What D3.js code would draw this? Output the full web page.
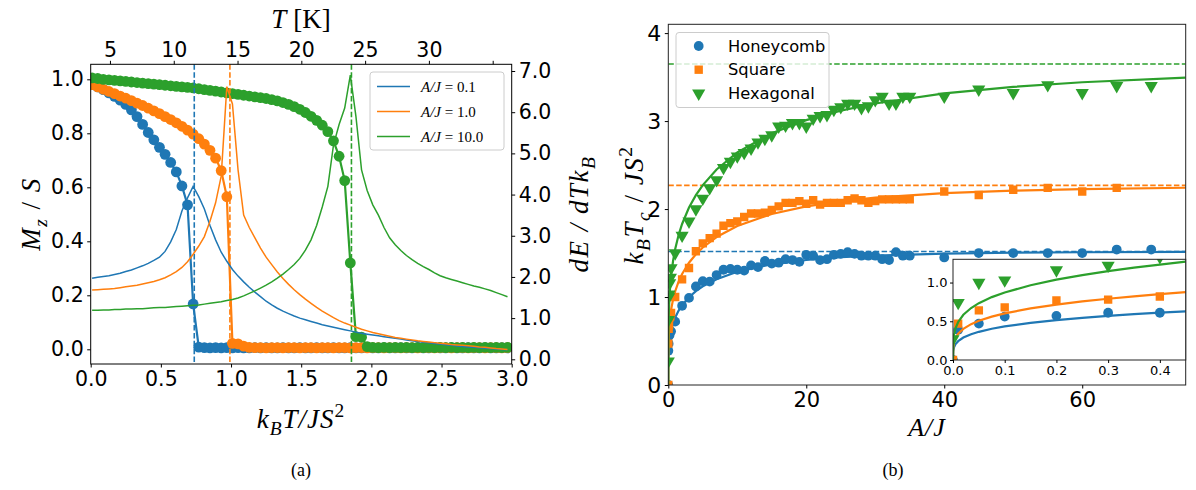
<!DOCTYPE html>
<html><head><meta charset="utf-8">
<script src="https://cdn.jsdelivr.net/npm/d3@7"></script>
<style>body{margin:0;background:#fff;} svg{display:block;}</style>
</head><body>
<svg id="c" width="1196" height="490"></svg>
<script>
// ---------------- Panel (a) data ----------------
const tempGrid = [0.01,0.05,0.09,0.13,0.17,0.21,0.25,0.29,0.33,0.37,0.41,0.45,0.49,0.53,0.57,0.61,0.65,0.69,0.73,0.77,0.81,0.85,0.89,0.93,0.97,1.01,1.05,1.09,1.13,1.17,1.21,1.25,1.29,1.33,1.37,1.41,1.45,1.49,1.53,1.57,1.61,1.65,1.69,1.73,1.77,1.81,1.85,1.89,1.93,1.97,2.01,2.05,2.09,2.13,2.17,2.21,2.25,2.29,2.33,2.37,2.41,2.45,2.49,2.53,2.57,2.61,2.65,2.69,2.73,2.77,2.81,2.85,2.89,2.93,2.97];
const magA01 = [0.980,0.972,0.962,0.950,0.937,0.923,0.907,0.887,0.862,0.833,0.803,0.776,0.748,0.722,0.692,0.657,0.605,0.535,0.168,0.008,0.006,0.005,0.006,0.005,0.006,0.005,0.006,0.005,0.005,0.006,0.005,0.006,0.005,0.005,0.006,0.005,0.005,0.006,0.005,0.005,0.006,0.005,0.005,0.006,0.005,0.005,0.006,0.005,0.005,0.006,0.005,0.005,0.006,0.005,0.005,0.006,0.005,0.005,0.006,0.005,0.005,0.006,0.005,0.005,0.006,0.005,0.005,0.006,0.005,0.005,0.006,0.005,0.005,0.006,0.005];
const magA1 = [0.980,0.972,0.963,0.955,0.947,0.938,0.930,0.921,0.912,0.903,0.893,0.883,0.873,0.862,0.851,0.839,0.826,0.812,0.797,0.780,0.760,0.737,0.708,0.662,0.565,0.022,0.020,0.012,0.007,0.006,0.006,0.005,0.006,0.006,0.005,0.006,0.006,0.005,0.006,0.006,0.005,0.006,0.006,0.005,0.006,0.006,0.005,0.006,0.006,0.005,0.006,0.006,0.005,0.006,0.006,0.005,0.006,0.006,0.005,0.006,0.006,0.005,0.006,0.006,0.005,0.006,0.006,0.005,0.006,0.006,0.005,0.006,0.006,0.005,0.006];
const magA10 = [1.005,1.003,1.000,0.998,0.996,0.994,0.992,0.990,0.988,0.986,0.984,0.982,0.980,0.978,0.976,0.974,0.972,0.970,0.968,0.965,0.962,0.959,0.956,0.953,0.950,0.947,0.944,0.941,0.938,0.935,0.932,0.929,0.925,0.920,0.914,0.907,0.899,0.889,0.877,0.863,0.848,0.830,0.806,0.772,0.715,0.625,0.320,0.047,0.045,0.010,0.007,0.006,0.007,0.006,0.007,0.006,0.007,0.006,0.007,0.006,0.007,0.006,0.007,0.006,0.007,0.006,0.007,0.006,0.007,0.006,0.007,0.006,0.007,0.006,0.007];
const heatA01 = [1.97,1.99,2.01,2.03,2.06,2.09,2.13,2.17,2.22,2.27,2.33,2.40,2.48,2.62,2.85,3.15,3.60,3.92,4.20,3.95,3.65,3.25,2.90,2.60,2.38,2.18,2.02,1.88,1.75,1.63,1.52,1.41,1.32,1.24,1.17,1.11,1.05,1.00,0.96,0.92,0.88,0.84,0.81,0.78,0.75,0.72,0.69,0.66,0.63,0.61,0.59,0.57,0.55,0.53,0.51,0.49,0.47,0.45,0.43,0.415,0.40,0.385,0.37,0.355,0.34,0.325,0.31,0.30,0.29,0.28,0.27,0.26,0.25,0.24,0.23];
const heatA1 = [1.68,1.69,1.70,1.71,1.72,1.74,1.76,1.78,1.80,1.83,1.86,1.89,1.93,1.98,2.05,2.13,2.23,2.37,2.55,2.75,2.98,3.35,3.80,4.45,6.62,6.20,4.60,3.50,3.20,2.95,2.70,2.48,2.30,2.12,1.96,1.82,1.69,1.57,1.46,1.36,1.26,1.17,1.09,1.01,0.94,0.88,0.83,0.78,0.73,0.69,0.65,0.62,0.59,0.56,0.53,0.51,0.49,0.47,0.45,0.435,0.42,0.405,0.39,0.375,0.36,0.35,0.34,0.33,0.315,0.30,0.29,0.275,0.26,0.25,0.24];
const heatA10 = [1.19,1.19,1.20,1.20,1.21,1.21,1.22,1.22,1.23,1.23,1.24,1.25,1.26,1.26,1.27,1.28,1.29,1.30,1.31,1.32,1.34,1.36,1.38,1.40,1.43,1.45,1.49,1.54,1.60,1.66,1.73,1.80,1.88,1.97,2.07,2.18,2.30,2.45,2.65,2.90,3.25,3.70,4.20,5.20,5.70,6.10,6.90,5.90,4.60,4.10,3.75,3.50,3.20,2.95,2.78,2.64,2.52,2.42,2.33,2.25,2.18,2.10,2.03,1.98,1.94,1.90,1.86,1.82,1.78,1.75,1.71,1.67,1.62,1.57,1.52];
const criticalT = [0.738, 0.992, 1.858];
const seriesLabels = ["0.1", "1.0", "10.0"];
const bottomTicks = [0.0,0.5,1.0,1.5,2.0,2.5,3.0];
const leftTicks = [0.0,0.2,0.4,0.6,0.8,1.0];
const rightTicks = [0,1,2,3,4,5,6,7];
const topTicks = [5,10,15,20,25,30,35];
const topTickLabels = ["5","10","15","20","25","30",""];

// ---------------- Panel (b) data ----------------
const anisotropy = [0,0.01,0.05,0.1,0.2,0.3,0.4,1,2,3,4,5,6,7,8,9,10,11,12,13,14,15,16,17,18,19,20,21,22,23,24,25,26,27,28,29,30,31,32,33,34,35,40,45,50,55,60,65,70];
const tcHoneycomb = [0,0.39,0.47,0.56,0.57,0.61,0.61,0.72,0.90,0.99,1.12,1.18,1.175,1.25,1.31,1.32,1.31,1.30,1.36,1.34,1.41,1.38,1.39,1.43,1.42,1.40,1.48,1.47,1.42,1.43,1.48,1.49,1.51,1.49,1.47,1.47,1.47,1.43,1.42,1.51,1.47,1.47,1.45,1.50,1.50,1.50,1.50,1.54,1.54];
const tcSquare = [0,0.47,0.64,0.68,0.77,0.78,0.82,1.00,1.20,1.33,1.52,1.61,1.67,1.72,1.81,1.84,1.86,1.91,1.95,1.95,1.96,1.99,2.03,2.07,2.07,2.09,2.06,2.10,2.05,2.07,2.07,2.07,2.10,2.12,2.10,2.07,2.09,2.11,2.11,2.11,2.11,2.11,2.20,2.16,2.22,2.24,2.20,2.24,null];
const tcHexagonal = [0.27,0.74,1.00,1.03,1.16,1.22,1.33,1.50,1.70,1.86,2.00,2.12,2.24,2.33,2.47,2.54,2.60,2.64,2.69,2.76,2.80,2.84,2.94,2.95,2.98,2.98,2.94,3.03,3.06,3.07,3.13,3.16,3.20,3.20,3.15,3.17,3.24,3.28,3.20,3.20,3.28,3.28,3.28,3.36,3.32,3.41,3.32,3.40,3.40];
const fitA = [0,0.0005,0.002,0.005,0.01,0.02,0.035,0.05,0.075,0.1,0.15,0.2,0.25,0.3,0.35,0.4,0.45,0.7,1,1.5,2,3,4,5,7,10,15,20,25,30,40,50,60,75];
const fitHoneycomb = [0,0.115,0.163,0.205,0.243,0.290,0.333,0.364,0.403,0.433,0.479,0.514,0.544,0.569,0.591,0.611,0.629,0.702,0.767,0.846,0.907,0.998,1.067,1.121,1.203,1.287,1.372,1.421,1.452,1.471,1.493,1.504,1.509,1.514];
const fitSquare = [0,0.160,0.226,0.285,0.338,0.402,0.463,0.506,0.560,0.602,0.666,0.715,0.756,0.791,0.822,0.850,0.875,0.976,1.066,1.177,1.262,1.390,1.486,1.563,1.682,1.808,1.944,2.030,2.088,2.129,2.180,2.209,2.227,2.242];
const fitHexagonal = [0,0.232,0.328,0.413,0.491,0.584,0.671,0.734,0.812,0.872,0.965,1.037,1.096,1.147,1.192,1.232,1.269,1.415,1.545,1.707,1.830,2.017,2.158,2.272,2.450,2.643,2.862,3.011,3.118,3.200,3.314,3.389,3.441,3.493];
const isingLimit = [1.517, 2.269, 3.648];
const latticeNames = ["Honeycomb", "Square", "Hexagonal"];
const bTicksX = [0,20,40,60];
const bTicksY = [0,1,2,3,4];
const insetTicksX = [0.0,0.1,0.2,0.3,0.4];
const insetTicksY = [0.0,0.5,1.0];

// ---------------- drawing ----------------
const colors = ["#1f77b4", "#ff7f0e", "#2ca02c"];
const svg = d3.select("#c");
const SANS = "DejaVu Sans";
const SERIF = "Liberation Serif";

function mtext(sel, parts, size) {
  let shift = 0;
  parts.forEach(([t, s]) => {
    const ts = sel.append("tspan").text(t);
    let target = 0, fs = size, italic = !s.includes("r");
    if (s.includes("b")) { target = size * 0.25; fs = size * 0.72; }
    if (s.includes("p")) { target = -size * 0.42; fs = size * 0.72; }
    ts.attr("dy", target - shift).attr("font-size", fs).attr("font-style", italic ? "italic" : "normal");
    shift = target;
  });
}

function styleAxis(g, size) {
  g.select(".domain").remove();
  g.selectAll(".tick line").attr("stroke", "#000").attr("stroke-width", 1);
  g.selectAll(".tick text").attr("font-family", SANS).attr("font-size", size).attr("fill", "#000");
}

// ===== Panel (a) =====
const L = {x0: 90.7, x1: 511.7, y0: 64.3, y1: 364};
const xL = d3.scaleLinear().domain([0, 3]).range([L.x0, L.x1]);
const yL = d3.scaleLinear().domain([-0.0544, 1.0556]).range([L.y1, L.y0]);
const yR = d3.scaleLinear().domain([-0.114, 7.163]).range([L.y1, L.y0]);
const xT = d3.scaleLinear().domain([3.49, 36.49]).range([L.x0, L.x1]);

svg.append("clipPath").attr("id", "clipA").append("rect")
  .attr("x", L.x0).attr("y", L.y0).attr("width", L.x1 - L.x0).attr("height", L.y1 - L.y0);

const gA = svg.append("g").attr("clip-path", "url(#clipA)");
const magSeries = [magA01, magA1, magA10];
const heatSeries = [heatA01, heatA1, heatA10];

magSeries.forEach((m, i) => {
  const pts = tempGrid.map((t, k) => [t, m[k]]);
  gA.append("path").datum(pts)
    .attr("d", d3.line().x(d => xL(d[0])).y(d => yL(d[1])))
    .attr("fill", "none").attr("stroke", colors[i]).attr("stroke-width", 2.2);
  gA.append("g").selectAll("circle").data(pts).join("circle")
    .attr("cx", d => xL(d[0])).attr("cy", d => yL(d[1])).attr("r", 5.4)
    .attr("fill", colors[i]);
});
criticalT.forEach((t, i) => {
  gA.append("line").attr("x1", xL(t)).attr("x2", xL(t)).attr("y1", L.y0).attr("y2", L.y1)
    .attr("stroke", colors[i]).attr("stroke-width", 1.6).attr("stroke-dasharray", "5.5,2.4");
});
heatSeries.forEach((h, i) => {
  const pts = tempGrid.map((t, k) => [t, h[k]]);
  gA.append("path").datum(pts)
    .attr("d", d3.line().x(d => xL(d[0])).y(d => yR(d[1])))
    .attr("fill", "none").attr("stroke", colors[i]).attr("stroke-width", 1.5);
});

svg.append("rect").attr("x", L.x0).attr("y", L.y0).attr("width", L.x1 - L.x0).attr("height", L.y1 - L.y0)
  .attr("fill", "none").attr("stroke", "#000").attr("stroke-width", 1);

const TA = 20.5;
styleAxis(svg.append("g").attr("transform", `translate(0,${L.y1})`)
  .call(d3.axisBottom(xL).tickValues(bottomTicks).tickFormat(d3.format(".1f")).tickSize(3.5).tickPadding(3.5)), TA);
styleAxis(svg.append("g").attr("transform", `translate(${L.x0},0)`)
  .call(d3.axisLeft(yL).tickValues(leftTicks).tickFormat(d3.format(".1f")).tickSize(3.5).tickPadding(3.5)), TA);
styleAxis(svg.append("g").attr("transform", `translate(${L.x1},0)`)
  .call(d3.axisRight(yR).tickValues(rightTicks).tickFormat(d3.format(".1f")).tickSize(3.5).tickPadding(3.5)), TA);
styleAxis(svg.append("g").attr("transform", `translate(0,${L.y0})`)
  .call(d3.axisTop(xT).tickValues(topTicks).tickFormat((d, i) => topTickLabels[i]).tickSize(3.5).tickPadding(3.5)), TA);

// axis labels (a)
const LBL = 27;
mtext(svg.append("text").attr("x", 301).attr("y", 428).attr("text-anchor", "middle").attr("font-family", SERIF).attr("letter-spacing", 1),
  [["k", "i"], ["B", "ib"], ["T/JS", "i"], ["2", "rp"]], LBL);
mtext(svg.append("text").attr("x", 301).attr("y", 28).attr("text-anchor", "middle").attr("font-family", SERIF),
  [["T", "i"], [" [K]", "r"]], LBL);
mtext(svg.append("text").attr("transform", `translate(40,214) rotate(-90)`).attr("text-anchor", "middle").attr("font-family", SERIF).attr("letter-spacing", 1.5),
  [["M", "i"], ["z", "ib"], [" / ", "r"], ["S", "i"]], LBL);
mtext(svg.append("text").attr("transform", `translate(588,214) rotate(-90)`).attr("text-anchor", "middle").attr("font-family", SERIF).attr("letter-spacing", 1.5),
  [["dE / dTk", "i"], ["B", "ib"]], LBL);

// legend (a)
const lg = svg.append("g");
lg.append("rect").attr("x", 370).attr("y", 72).attr("width", 134).attr("height", 78).attr("rx", 3)
  .attr("fill", "#fff").attr("fill-opacity", 0.8).attr("stroke", "#ccc").attr("stroke-width", 1);
seriesLabels.forEach((s, i) => {
  const y = 86.5 + i * 25;
  lg.append("line").attr("x1", 377).attr("x2", 410).attr("y1", y).attr("y2", y)
    .attr("stroke", colors[i]).attr("stroke-width", 1.5);
  mtext(lg.append("text").attr("x", 421).attr("y", y + 5).attr("font-family", SERIF),
    [["A/J", "i"], [" = " + s, "r"]], 15);
});

svg.append("text").attr("x", 301).attr("y", 476).attr("text-anchor", "middle")
  .attr("font-family", SERIF).attr("font-size", 18).text("(a)");

// ===== Panel (b) =====
const R = {x0: 668.3, x1: 1185.7, y0: 24.3, y1: 385};
const xB = d3.scaleLinear().domain([0, 75]).range([R.x0, R.x1]);
const yB = d3.scaleLinear().domain([0, 4.1]).range([R.y1, R.y0]);
svg.append("clipPath").attr("id", "clipB").append("rect")
  .attr("x", R.x0).attr("y", R.y0).attr("width", R.x1 - R.x0).attr("height", R.y1 - R.y0);

const tcSeries = [tcHoneycomb, tcSquare, tcHexagonal];
const fitSeries = [fitHoneycomb, fitSquare, fitHexagonal];
const symbols = [d3.symbolCircle, d3.symbolSquare, d3.symbolTriangle];
const symSizes = [75, 70, 75];

function drawMarkers(g, xs, ys, i, x, y, scale) {
  const sym = d3.symbol().type(symbols[i]).size(symSizes[i] * (scale || 1));
  const pts = xs.map((a, k) => [a, ys[k]]).filter(d => d[1] !== null);
  g.append("g").selectAll("path").data(pts).join("path")
    .attr("d", sym)
    .attr("transform", d => `translate(${x(d[0])},${y(d[1])})` + (i === 2 ? " rotate(180)" : ""))
    .attr("fill", colors[i]);
}

const gB = svg.append("g").attr("clip-path", "url(#clipB)");
isingLimit.forEach((v, i) => {
  gB.append("line").attr("x1", R.x0).attr("x2", R.x1).attr("y1", yB(v)).attr("y2", yB(v))
    .attr("stroke", colors[i]).attr("stroke-width", 1.6).attr("stroke-dasharray", "5.5,2.4");
});
[0, 1, 2].forEach(i => {
  drawMarkers(gB, anisotropy, tcSeries[i], i, xB, yB);
  gB.append("path").datum(fitA.map((a, k) => [a, fitSeries[i][k]]))
    .attr("d", d3.line().x(d => xB(d[0])).y(d => yB(d[1])))
    .attr("fill", "none").attr("stroke", colors[i]).attr("stroke-width", 2.2);
});

svg.append("rect").attr("x", R.x0).attr("y", R.y0).attr("width", R.x1 - R.x0).attr("height", R.y1 - R.y0)
  .attr("fill", "none").attr("stroke", "#222").attr("stroke-width", 1);
const TB = 21;
styleAxis(svg.append("g").attr("transform", `translate(0,${R.y1})`)
  .call(d3.axisBottom(xB).tickValues(bTicksX).tickFormat(d3.format("d")).tickSize(3.5).tickPadding(3.5)), TB);
styleAxis(svg.append("g").attr("transform", `translate(${R.x0},0)`)
  .call(d3.axisLeft(yB).tickValues(bTicksY).tickFormat(d3.format("d")).tickSize(3.5).tickPadding(3.5)), 22);

mtext(svg.append("text").attr("x", 927).attr("y", 436).attr("text-anchor", "middle").attr("font-family", SERIF).attr("letter-spacing", 1),
  [["A/J", "i"]], 26);
mtext(svg.append("text").attr("transform", `translate(643,205) rotate(-90)`).attr("text-anchor", "middle").attr("font-family", SERIF).attr("letter-spacing", 1.5),
  [["k", "i"], ["B", "ib"], ["T", "i"], ["c", "ib"], [" / ", "r"], ["JS", "i"], ["2", "rp"]], LBL);

// legend (b)
const lb = svg.append("g");
lb.append("rect").attr("x", 676).attr("y", 32.5).attr("width", 153).attr("height", 75).attr("rx", 3)
  .attr("fill", "#fff").attr("fill-opacity", 0.8).attr("stroke", "#ccc").attr("stroke-width", 1);
latticeNames.forEach((name, i) => {
  const y = 46 + i * 23.7;
  const sym = d3.symbol().type(symbols[i]).size(symSizes[i]);
  lb.append("path").attr("d", sym)
    .attr("transform", `translate(698.7,${y})` + (i === 2 ? " rotate(180)" : "")).attr("fill", colors[i]);
  lb.append("text").attr("x", 728).attr("y", y + 5.5).attr("font-family", SANS).attr("font-size", 16.3).text(name);
});

// inset
const I = {x0: 953, x1: 1185.7, y0: 259.3, y1: 360};
const xI = d3.scaleLinear().domain([0, 0.45]).range([I.x0, I.x1]);
const yI = d3.scaleLinear().domain([0, 1.3]).range([I.y1, I.y0]);
svg.append("rect").attr("x", I.x0).attr("y", I.y0).attr("width", I.x1 - I.x0).attr("height", I.y1 - I.y0)
  .attr("fill", "#fff");
svg.append("clipPath").attr("id", "clipI").append("rect")
  .attr("x", I.x0).attr("y", I.y0).attr("width", I.x1 - I.x0).attr("height", I.y1 - I.y0);
const gI = svg.append("g").attr("clip-path", "url(#clipI)");
[0, 1, 2].forEach(i => {
  drawMarkers(gI, anisotropy, tcSeries[i], i, xI, yI);
  gI.append("path").datum(fitA.map((a, k) => [a, fitSeries[i][k]]))
    .attr("d", d3.line().x(d => xI(d[0])).y(d => yI(d[1])))
    .attr("fill", "none").attr("stroke", colors[i]).attr("stroke-width", 2.2);
});
svg.append("rect").attr("x", I.x0).attr("y", I.y0).attr("width", I.x1 - I.x0).attr("height", I.y1 - I.y0)
  .attr("fill", "none").attr("stroke", "#222").attr("stroke-width", 1);
styleAxis(svg.append("g").attr("transform", `translate(0,${I.y1})`)
  .call(d3.axisBottom(xI).tickValues(insetTicksX).tickFormat(d3.format(".1f")).tickSize(3).tickPadding(2.5)), 13);
styleAxis(svg.append("g").attr("transform", `translate(${I.x0},0)`)
  .call(d3.axisLeft(yI).tickValues(insetTicksY).tickFormat(d3.format(".1f")).tickSize(3).tickPadding(2.5)), 13);

svg.append("text").attr("x", 893).attr("y", 476).attr("text-anchor", "middle")
  .attr("font-family", SERIF).attr("font-size", 18).text("(b)");
</script>
</body></html>
